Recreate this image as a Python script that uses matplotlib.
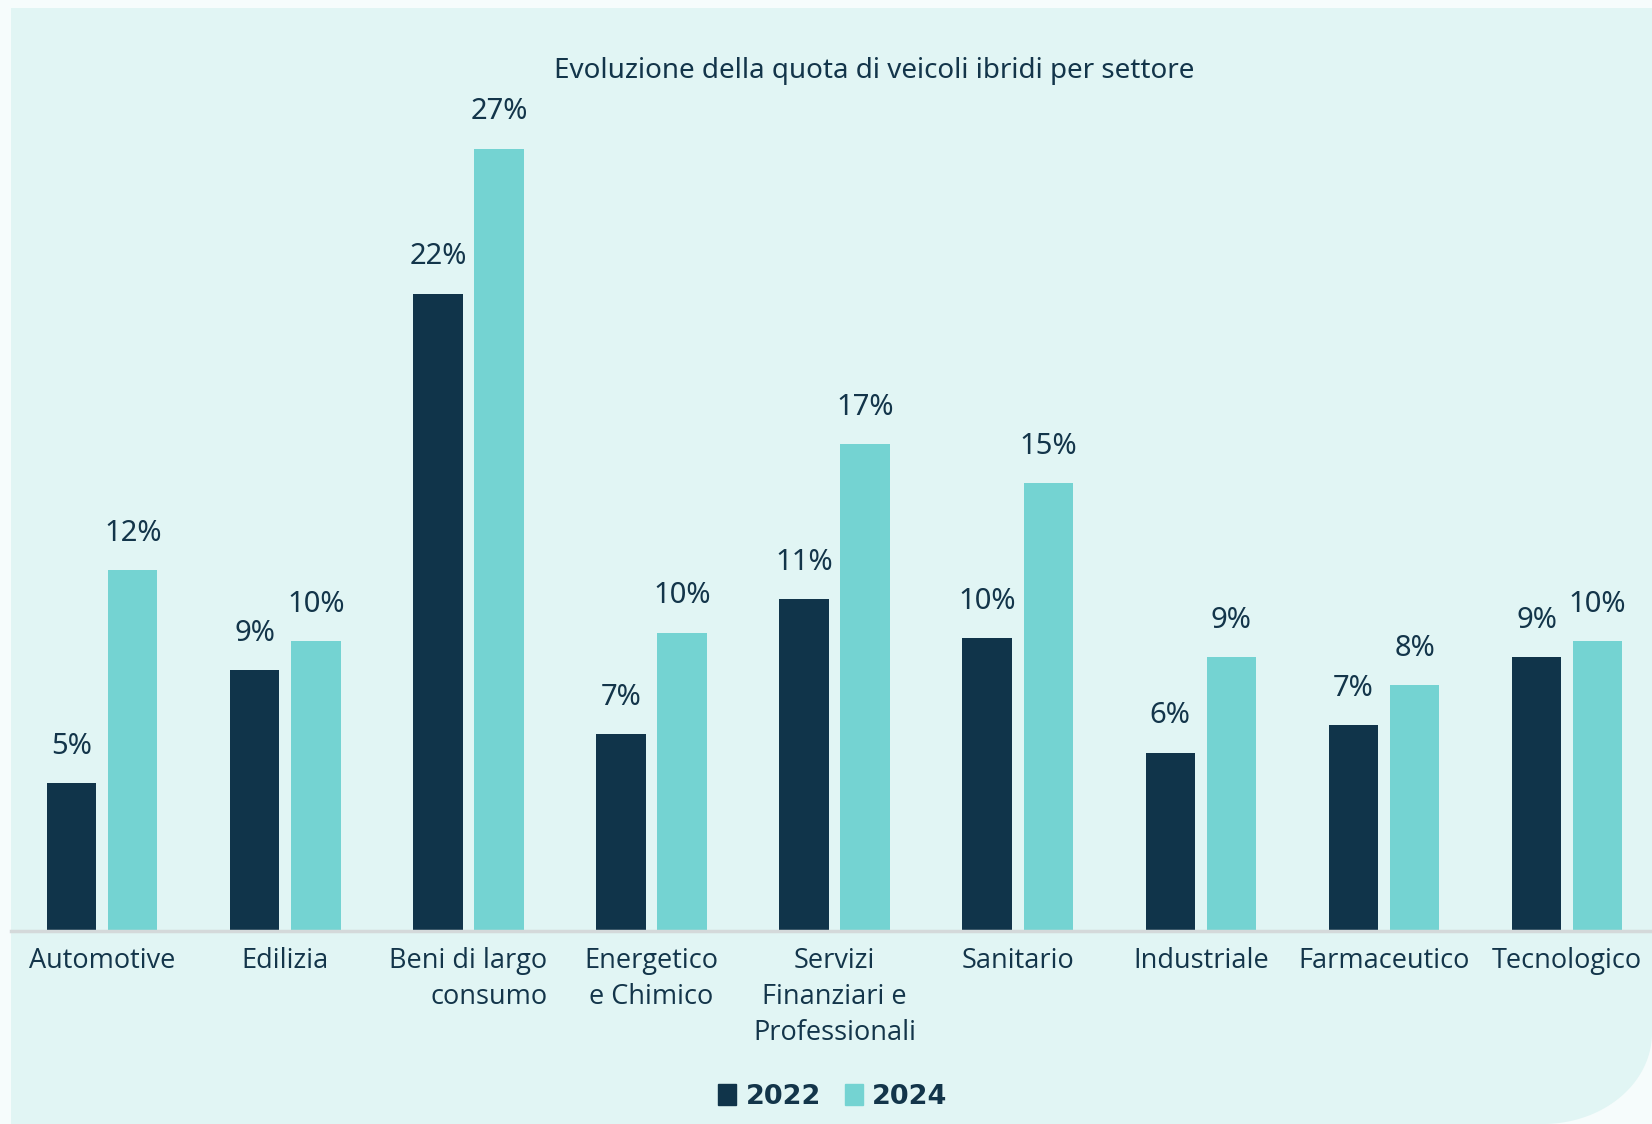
import matplotlib.pyplot as plt
import numpy as np
from matplotlib import font_manager
from matplotlib.patches import Patch, PathPatch
from matplotlib.path import Path
import matplotlib.transforms as mtransforms

categories = ['Automotive', 'Edilizia', 'Beni di largo\nconsumo', 'Energetico\ne Chimico',
              'Servizi\nFinanziari e\nProfessionali', 'Sanitario', 'Industriale',
              'Farmaceutico', 'Tecnologico']
share_2022 = [5.1, 9.0, 22.0, 6.8, 11.45, 10.1, 6.15, 7.1, 9.45]
share_2024 = [12.45, 10.0, 27.0, 10.3, 16.8, 15.45, 9.45, 8.48, 10.0]
years = ['2022', '2024']

dark = '#10344a'
light = '#74d3d2'
panel_bg = '#e1f5f4'
outer_bg = '#f6fcfc'
text_col = '#13354a'

available = {f.name for f in font_manager.fontManager.ttflist}
title_font = 'Liberation Sans Narrow' if 'Liberation Sans Narrow' in available else 'Noto Sans'
cat_font = 'Open Sans' if 'Open Sans' in available else 'DejaVu Sans'

W, H = 1652, 1124
fig = plt.figure(figsize=(W / 100, H / 100), dpi=100)
fig.patch.set_facecolor(outer_bg)

# background panel with rounded bottom-right corner
x0, ytop = 11 / W, 1 - 8 / H
cx, cy = 1543 / W, 1 - 1033 / H
rx, ry = 1 - cx, cy
theta = np.linspace(0, -np.pi / 2, 40)
pts = [(x0, ytop), (1, ytop)]
pts += list(zip(cx + rx * np.cos(theta), cy + ry * np.sin(theta)))
pts += [(x0, 0), (x0, ytop)]
panel = PathPatch(Path(pts), transform=fig.transFigure, facecolor=panel_bg,
                  edgecolor='none', zorder=-5)
fig.patches.append(panel)

ax = fig.add_axes([11 / W, (H - 931) / H, 1 - 11 / W, 831 / H])
ax.set_facecolor('none')
ax.set_zorder(2)

x = np.arange(len(categories))
w = 0.27
off = 0.167
b1 = ax.bar(x - off, share_2022, w, color=dark, zorder=2)
b2 = ax.bar(x + off, share_2024, w, color=light, zorder=2)

for bars, vals in ((b1, share_2022), (b2, share_2024)):
    for rect, v in zip(bars, vals):
        ax.annotate(f'{round(v)}%', (rect.get_x() + rect.get_width() / 2, v),
                    xytext=(0, 26.5), textcoords='offset points', ha='center', va='center',
                    fontsize=21, color=text_col, family='Noto Sans')

ax.set_xlim(-0.498, 8.464)
ax.set_ylim(0, 28.68)
for s in ['top', 'right', 'left']:
    ax.spines[s].set_visible(False)
ax.spines['bottom'].set_color('#d4d9da')
ax.spines['bottom'].set_linewidth(2.5)
ax.set_xticks([])
ax.set_yticks([])

# category labels below the axis
trans = mtransforms.blended_transform_factory(ax.transData, fig.transFigure)
for i, lab in enumerate(categories):
    malign = 'right' if i == 2 else 'center'
    ax.text(i, 1 - 947 / H, lab, transform=trans, ha='center', va='top',
            multialignment=malign, fontsize=19.5, color=text_col, family=cat_font,
            linespacing=1.39, clip_on=False)

fig.text(874 / W, 1 - 71 / H, 'Evoluzione della quota di veicoli ibridi per settore',
         ha='center', va='center', fontsize=20, color=text_col, family=title_font)

handles = [Patch(color=dark), Patch(color=light)]
fig.legend(handles, years, loc='center', bbox_to_anchor=(833 / W, 1 - 1097 / H),
           ncol=2, frameon=False, handlelength=0.65, handleheight=0.8,
           handletextpad=0.35, columnspacing=0.9,
           prop={'family': 'DejaVu Sans', 'weight': 'bold', 'size': 19.5},
           labelcolor=text_col)

fig.savefig('out.png', dpi=100, facecolor=fig.get_facecolor())
